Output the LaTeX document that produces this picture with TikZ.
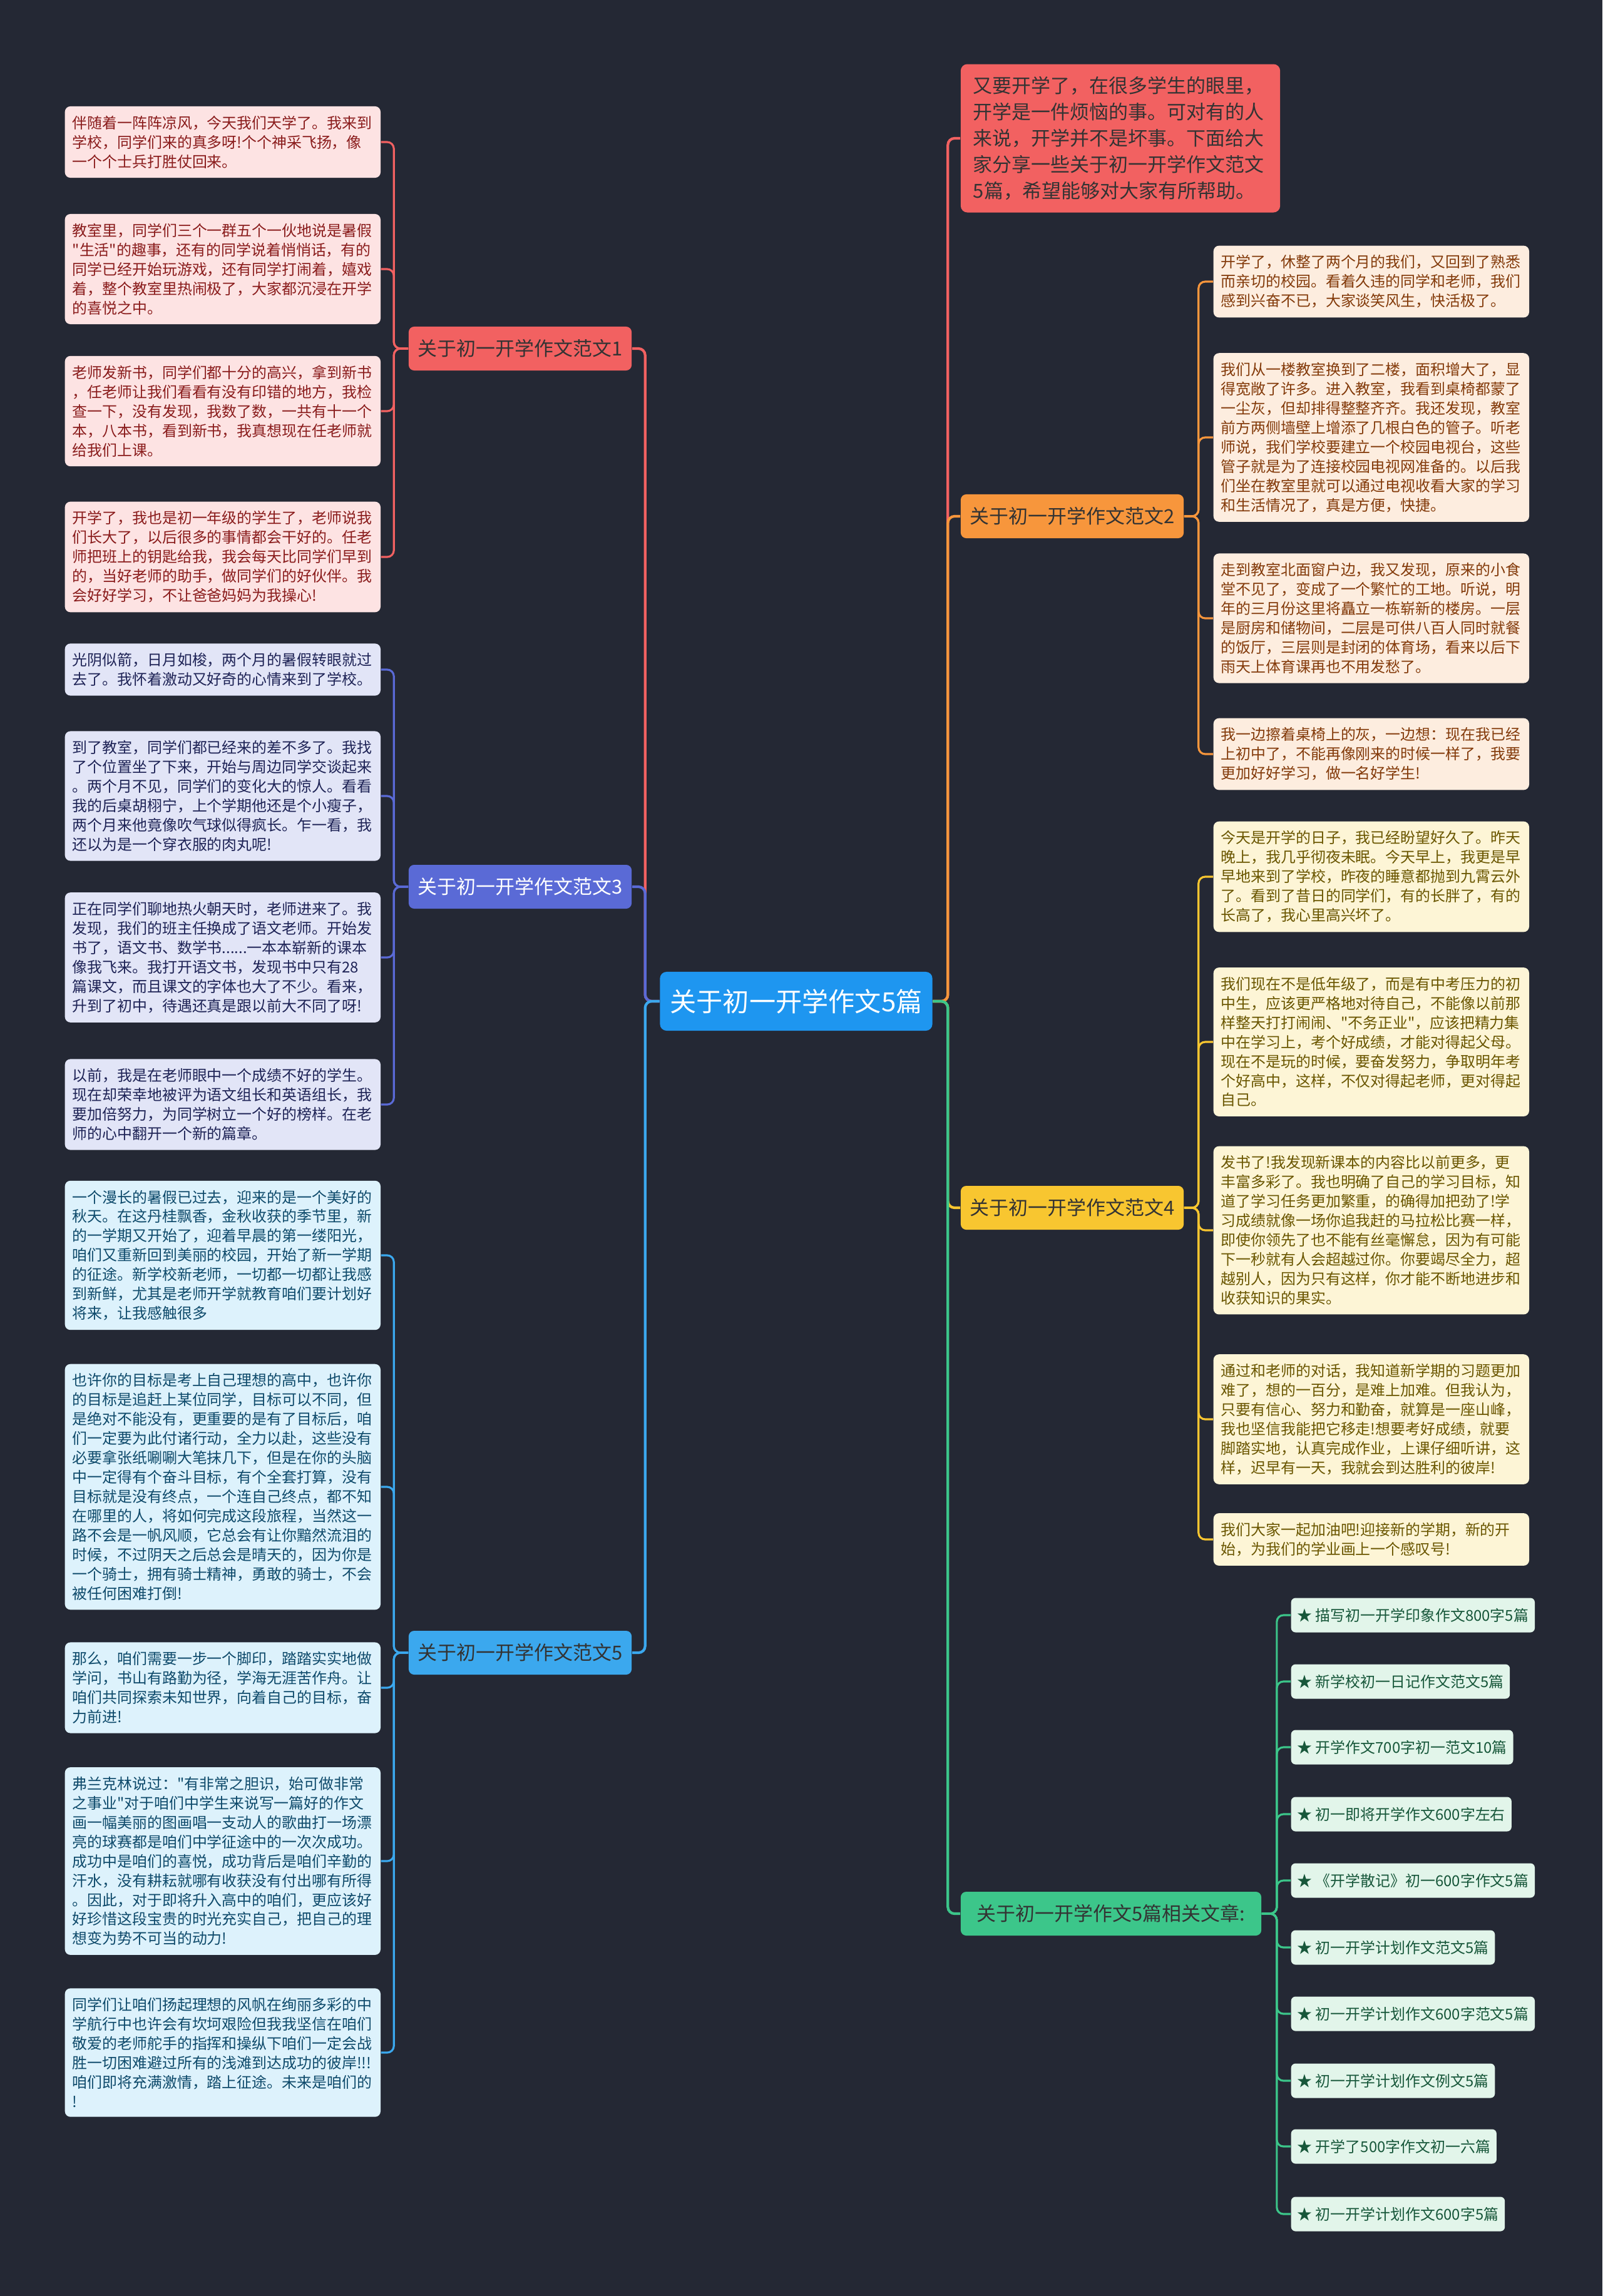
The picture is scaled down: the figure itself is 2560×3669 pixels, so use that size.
\documentclass[tikz,border=0pt]{standalone}
\usepackage{fontspec}
\newfontfamily\cjk{Noto Sans CJK SC}
\definecolor{bgdark}{HTML}{242834}
\definecolor{redmain}{HTML}{F26161}
\definecolor{redleaf}{HTML}{FDE3E3}
\definecolor{redtext}{HTML}{8A1C1C}
\definecolor{indmain}{HTML}{5A6AD6}
\definecolor{indleaf}{HTML}{E2E5F7}
\definecolor{indtext}{HTML}{1E2356}
\definecolor{skymain}{HTML}{3BA8EE}
\definecolor{skyleaf}{HTML}{DDF2FC}
\definecolor{skytext}{HTML}{0E4A6B}
\definecolor{orgmain}{HTML}{F7963C}
\definecolor{orgleaf}{HTML}{FDEDDF}
\definecolor{orgtext}{HTML}{833A0A}
\definecolor{yelmain}{HTML}{F8C630}
\definecolor{yelleaf}{HTML}{FDF5D6}
\definecolor{yeltext}{HTML}{6A5600}
\definecolor{grnmain}{HTML}{3CC68A}
\definecolor{grnleaf}{HTML}{E2F5EA}
\definecolor{grntext}{HTML}{17573A}
\definecolor{rootblue}{HTML}{1E96F0}
\begin{document}
\begin{tikzpicture}[x=0.01cm,y=-0.01cm,
  leaf/.style={rounded corners=2.5pt, inner xsep=0.12cm, inner ysep=0.15cm, text width=4.8cm, align=left, font=\cjk\fontsize{6.8pt}{8.8pt}\selectfont},
  lred/.style={leaf, fill=redleaf, text=redtext, anchor=west},
  lind/.style={leaf, fill=indleaf, text=indtext, anchor=west},
  lsky/.style={leaf, fill=skyleaf, text=skytext, anchor=west},
  lorg/.style={leaf, fill=orgleaf, text=orgtext, anchor=west},
  lyel/.style={leaf, fill=yelleaf, text=yeltext, anchor=west},
  branch/.style={rounded corners=2.5pt, minimum width=3.56cm, minimum height=0.70cm, inner sep=0pt, font=\cjk\fontsize{8.8pt}{10pt}\selectfont},
  linkbox/.style={rounded corners=2pt, fill=grnleaf, text=grntext, anchor=west, minimum height=0.55cm, inner xsep=0.1cm, font=\cjk\fontsize{6.8pt}{8pt}\selectfont},
  trunk/.style={line width=1.2pt, rounded corners=3pt},
  twig/.style={line width=0.9pt, rounded corners=3pt}]
\fill[bgdark] (0,0) rectangle (2560,3669);
\useasboundingbox (0,0) rectangle (2560,3669);

\node[rounded corners=3pt, fill=rootblue, text=white, minimum width=4.35cm, minimum height=0.94cm, font=\cjk\fontsize{12pt}{14pt}\selectfont] (root) at (1272,1600) {关于初一开学作文5篇};

\node[branch, fill=redmain, text=black!80] (b1) at (831,557) {关于初一开学作文范文1};
\node[branch, fill=indmain, text=white] (b3) at (831,1417) {关于初一开学作文范文3};
\node[branch, fill=skymain, text=black!80] (b5) at (831,2641) {关于初一开学作文范文5};
\node[rounded corners=3pt, fill=redmain, text=black!80, text width=4.7cm, inner xsep=0.2cm, inner ysep=0.2cm, align=left, font=\cjk\fontsize{8.8pt}{11.9pt}\selectfont] (intro) at (1790,221) {又要开学了，在很多学生的眼里，\\开学是一件烦恼的事。可对有的人\\来说，开学并不是坏事。下面给大\\家分享一些关于初一开学作文范文\\5篇，希望能够对大家有所帮助。};
\node[branch, fill=orgmain, text=black!80] (b2) at (1713,825) {关于初一开学作文范文2};
\node[branch, fill=yelmain, text=black!80] (b4) at (1713,1930) {关于初一开学作文范文4};
\node[branch, fill=grnmain, text=black!80, minimum width=4.8cm] (rel) at (1775,3058) {关于初一开学作文5篇相关文章:};

\node[lred] (l1a) at (103,227) {伴随着一阵阵凉风，今天我们天学了。我来到\\学校，同学们来的真多呀!个个神采飞扬，像\\一个个士兵打胜仗回来。};
\node[lred] (l1b) at (103,430) {教室里，同学们三个一群五个一伙地说是暑假\\"生活"的趣事，还有的同学说着悄悄话，有的\\同学已经开始玩游戏，还有同学打闹着，嬉戏\\着，整个教室里热闹极了，大家都沉浸在开学\\的喜悦之中。};
\node[lred] (l1c) at (103,657) {老师发新书，同学们都十分的高兴，拿到新书\\，任老师让我们看看有没有印错的地方，我检\\查一下，没有发现，我数了数，一共有十一个\\本，八本书，看到新书，我真想现在任老师就\\给我们上课。};
\node[lred] (l1d) at (103,890) {开学了，我也是初一年级的学生了，老师说我\\们长大了，以后很多的事情都会干好的。任老\\师把班上的钥匙给我，我会每天比同学们早到\\的，当好老师的助手，做同学们的好伙伴。我\\会好好学习，不让爸爸妈妈为我操心!};

\node[lind] (l3a) at (103,1070) {光阴似箭，日月如梭，两个月的暑假转眼就过\\去了。我怀着激动又好奇的心情来到了学校。};
\node[lind] (l3b) at (103,1272) {到了教室，同学们都已经来的差不多了。我找\\了个位置坐了下来，开始与周边同学交谈起来\\。两个月不见，同学们的变化大的惊人。看看\\我的后桌胡栩宁，上个学期他还是个小瘦子，\\两个月来他竟像吹气球似得疯长。乍一看，我\\还以为是一个穿衣服的肉丸呢!};
\node[lind] (l3c) at (103,1530) {正在同学们聊地热火朝天时，老师进来了。我\\发现，我们的班主任换成了语文老师。开始发\\书了，语文书、数学书......一本本崭新的课本\\像我飞来。我打开语文书，发现书中只有28\\篇课文，而且课文的字体也大了不少。看来，\\升到了初中，待遇还真是跟以前大不同了呀!};
\node[lind] (l3d) at (103,1765) {以前，我是在老师眼中一个成绩不好的学生。\\现在却荣幸地被评为语文组长和英语组长，我\\要加倍努力，为同学树立一个好的榜样。在老\\师的心中翻开一个新的篇章。};

\node[lsky] (l5a) at (103,2006) {一个漫长的暑假已过去，迎来的是一个美好的\\秋天。在这丹桂飘香，金秋收获的季节里，新\\的一学期又开始了，迎着早晨的第一缕阳光，\\咱们又重新回到美丽的校园，开始了新一学期\\的征途。新学校新老师，一切都一切都让我感\\到新鲜，尤其是老师开学就教育咱们要计划好\\将来，让我感触很多};
\node[lsky] (l5b) at (103,2376) {也许你的目标是考上自己理想的高中，也许你\\的目标是追赶上某位同学，目标可以不同，但\\是绝对不能没有，更重要的是有了目标后，咱\\们一定要为此付诸行动，全力以赴，这些没有\\必要拿张纸唰唰大笔抹几下，但是在你的头脑\\中一定得有个奋斗目标，有个全套打算，没有\\目标就是没有终点，一个连自己终点，都不知\\在哪里的人，将如何完成这段旅程，当然这一\\路不会是一帆风顺，它总会有让你黯然流泪的\\时候，不过阴天之后总会是晴天的，因为你是\\一个骑士，拥有骑士精神，勇敢的骑士，不会\\被任何困难打倒!};
\node[lsky] (l5c) at (103,2697) {那么，咱们需要一步一个脚印，踏踏实实地做\\学问，书山有路勤为径，学海无涯苦作舟。让\\咱们共同探索未知世界，向着自己的目标，奋\\力前进!};
\node[lsky] (l5d) at (103,2974) {弗兰克林说过："有非常之胆识，始可做非常\\之事业"对于咱们中学生来说写一篇好的作文\\画一幅美丽的图画唱一支动人的歌曲打一场漂\\亮的球赛都是咱们中学征途中的一次次成功。\\成功中是咱们的喜悦，成功背后是咱们辛勤的\\汗水，没有耕耘就哪有收获没有付出哪有所得\\。因此，对于即将升入高中的咱们，更应该好\\好珍惜这段宝贵的时光充实自己，把自己的理\\想变为势不可当的动力!};
\node[lsky] (l5e) at (103,3280) {同学们让咱们扬起理想的风帆在绚丽多彩的中\\学航行中也许会有坎坷艰险但我我坚信在咱们\\敬爱的老师舵手的指挥和操纵下咱们一定会战\\胜一切困难避过所有的浅滩到达成功的彼岸!!!\\咱们即将充满激情，踏上征途。未来是咱们的\\!};

\node[lorg] (r2a) at (1938,450) {开学了，休整了两个月的我们，又回到了熟悉\\而亲切的校园。看着久违的同学和老师，我们\\感到兴奋不已，大家谈笑风生，快活极了。};
\node[lorg] (r2b) at (1938,699) {我们从一楼教室换到了二楼，面积增大了，显\\得宽敞了许多。进入教室，我看到桌椅都蒙了\\一尘灰，但却排得整整齐齐。我还发现，教室\\前方两侧墙壁上增添了几根白色的管子。听老\\师说，我们学校要建立一个校园电视台，这些\\管子就是为了连接校园电视网准备的。以后我\\们坐在教室里就可以通过电视收看大家的学习\\和生活情况了，真是方便，快捷。};
\node[lorg] (r2c) at (1938,988) {走到教室北面窗户边，我又发现，原来的小食\\堂不见了，变成了一个繁忙的工地。听说，明\\年的三月份这里将矗立一栋崭新的楼房。一层\\是厨房和储物间，二层是可供八百人同时就餐\\的饭厅，三层则是封闭的体育场，看来以后下\\雨天上体育课再也不用发愁了。};
\node[lorg] (r2d) at (1938,1205) {我一边擦着桌椅上的灰，一边想：现在我已经\\上初中了，不能再像刚来的时候一样了，我要\\更加好好学习，做一名好学生!};

\node[lyel] (r4a) at (1938,1401) {今天是开学的日子，我已经盼望好久了。昨天\\晚上，我几乎彻夜未眠。今天早上，我更是早\\早地来到了学校，昨夜的睡意都抛到九霄云外\\了。看到了昔日的同学们，有的长胖了，有的\\长高了，我心里高兴坏了。};
\node[lyel] (r4b) at (1938,1665) {我们现在不是低年级了，而是有中考压力的初\\中生，应该更严格地对待自己，不能像以前那\\样整天打打闹闹、"不务正业"，应该把精力集\\中在学习上，考个好成绩，才能对得起父母。\\现在不是玩的时候，要奋发努力，争取明年考\\个好高中，这样，不仅对得起老师，更对得起\\自己。};
\node[lyel] (r4c) at (1938,1966) {发书了!我发现新课本的内容比以前更多，更\\丰富多彩了。我也明确了自己的学习目标，知\\道了学习任务更加繁重，的确得加把劲了!学\\习成绩就像一场你追我赶的马拉松比赛一样，\\即使你领先了也不能有丝毫懈怠，因为有可能\\下一秒就有人会超越过你。你要竭尽全力，超\\越别人，因为只有这样，你才能不断地进步和\\收获知识的果实。};
\node[lyel] (r4d) at (1938,2268) {通过和老师的对话，我知道新学期的习题更加\\难了，想的一百分，是难上加难。但我认为，\\只要有信心、努力和勤奋，就算是一座山峰，\\我也坚信我能把它移走!想要考好成绩，就要\\脚踏实地，认真完成作业，上课仔细听讲，这\\样，迟早有一天，我就会到达胜利的彼岸!};
\node[lyel] (r4e) at (1938,2460) {我们大家一起加油吧!迎接新的学期，新的开\\始，为我们的学业画上一个感叹号!};

\node[linkbox] (k1) at (2062,2581) {★ 描写初一开学印象作文800字5篇};
\node[linkbox] (k2) at (2062,2687) {★ 新学校初一日记作文范文5篇};
\node[linkbox] (k3) at (2062,2792) {★ 开学作文700字初一范文10篇};
\node[linkbox] (k4) at (2062,2899) {★ 初一即将开学作文600字左右};
\node[linkbox] (k5) at (2062,3005) {★ 《开学散记》初一600字作文5篇};
\node[linkbox] (k6) at (2062,3112) {★ 初一开学计划作文范文5篇};
\node[linkbox] (k7) at (2062,3218) {★ 初一开学计划作文600字范文5篇};
\node[linkbox] (k8) at (2062,3325) {★ 初一开学计划作文例文5篇};
\node[linkbox] (k9) at (2062,3430) {★ 开学了500字作文初一六篇};
\node[linkbox] (k10) at (2062,3538) {★ 初一开学计划作文600字5篇};

\draw[trunk, redmain] (root.west) -- ++(-23,0) |- (b1.east);
\draw[trunk, indmain] (root.west) -- ++(-23,0) |- (b3.east);
\draw[trunk, skymain] (root.west) -- ++(-23,0) |- (b5.east);
\draw[trunk, redmain] (root.east) -- ++(24,0) |- (intro.west);
\draw[trunk, orgmain] (root.east) -- ++(24,0) |- (b2.west);
\draw[trunk, yelmain] (root.east) -- ++(24,0) |- (b4.west);
\draw[trunk, grnmain] (root.east) -- ++(24,0) |- (rel.west);

\foreach \t in {l1a,l1b,l1c,l1d}
  \draw[twig, redmain] (b1.west) -- ++(-23,0) |- (\t.east);
\foreach \t in {l3a,l3b,l3c,l3d}
  \draw[twig, indmain] (b3.west) -- ++(-23,0) |- (\t.east);
\foreach \t in {l5a,l5b,l5c,l5d,l5e}
  \draw[twig, skymain] (b5.west) -- ++(-23,0) |- (\t.east);
\foreach \t in {r2a,r2b,r2c,r2d}
  \draw[twig, orgmain] (b2.east) -- ++(23,0) |- (\t.west);
\foreach \t in {r4a,r4b,r4c,r4d,r4e}
  \draw[twig, yelmain] (b4.east) -- ++(23,0) |- (\t.west);
\foreach \t in {k1,k2,k3,k4,k5,k6,k7,k8,k9,k10}
  \draw[twig, grnmain] (rel.east) -- ++(24,0) |- (\t.west);
\end{tikzpicture}
\end{document}
